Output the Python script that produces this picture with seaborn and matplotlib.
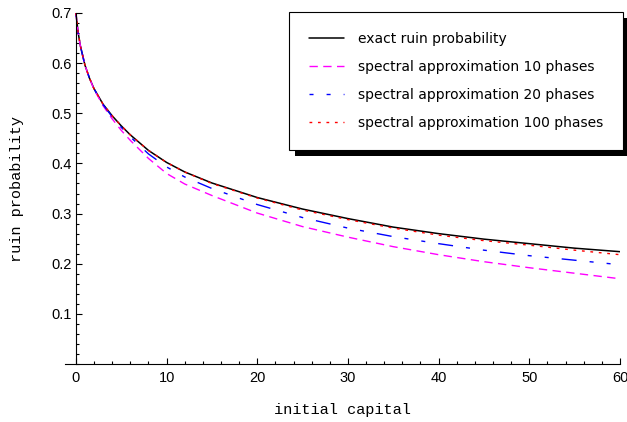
import numpy as np
import pandas as pd
import seaborn as sns
import matplotlib.pyplot as plt
import matplotlib.patheffects as pe
from matplotlib.ticker import MultipleLocator, FixedLocator

# values
capital = [0, 0.25, 0.5, 1, 1.5, 2, 3, 4, 5, 6, 8, 10, 12, 15, 20, 25, 30, 35, 40, 45, 50, 55, 60]
exact = [0.700, 0.661, 0.634, 0.596, 0.570, 0.549, 0.518, 0.495, 0.475, 0.457, 0.426, 0.402,
         0.383, 0.361, 0.332, 0.309, 0.290, 0.273, 0.260, 0.249, 0.240, 0.231, 0.224]
phases10 = [0.700, 0.661, 0.634, 0.596, 0.570, 0.548, 0.515, 0.489, 0.466, 0.446, 0.410, 0.380,
            0.359, 0.336, 0.301, 0.274, 0.253, 0.234, 0.218, 0.204, 0.192, 0.181, 0.170]
phases20 = [0.700, 0.661, 0.634, 0.596, 0.570, 0.549, 0.517, 0.493, 0.472, 0.453, 0.419, 0.393,
            0.373, 0.350, 0.318, 0.292, 0.271, 0.254, 0.240, 0.227, 0.216, 0.207, 0.198]
phases100 = [0.700, 0.661, 0.634, 0.596, 0.570, 0.549, 0.518, 0.495, 0.475, 0.457, 0.426, 0.402,
             0.383, 0.360, 0.331, 0.307, 0.288, 0.271, 0.257, 0.246, 0.237, 0.227, 0.218]

labels = ["exact ruin probability",
          "spectral approximation 10 phases",
          "spectral approximation 20 phases",
          "spectral approximation 100 phases"]
x_ticks = [0, 10, 20, 30, 40, 50, 60]
y_ticks = [0.1, 0.2, 0.3, 0.4, 0.5, 0.6, 0.7]

sns.set_style("white")
plt.rcParams['font.family'] = ['Liberation Sans', 'DejaVu Sans']
plt.rcParams['text.color'] = 'black'
plt.rcParams['axes.labelcolor'] = 'black'
plt.rcParams['xtick.color'] = 'black'
plt.rcParams['ytick.color'] = 'black'

fig = plt.figure(figsize=(6.27, 4.22), dpi=100)
ax = fig.add_axes([65 / 627, 1 - 364 / 422, 555 / 627, 351 / 422])

sns.lineplot(x=capital, y=exact, color="black", lw=1.1, label=labels[0], ax=ax)
sns.lineplot(x=capital, y=phases10, color="#ff00ff", lw=1.0, linestyle=(0, (6, 3.9)),
             label=labels[1], ax=ax)
sns.lineplot(x=capital, y=phases20, color="#0000ff", lw=1.0,
             linestyle=(0, (2.9, 9.4, 2.9, 9.4, 10.8, 9.4)), label=labels[2], ax=ax)
sns.lineplot(x=capital, y=phases100, color="#ff0000", lw=1.0, linestyle=(0, (2, 4.1)),
             label=labels[3], ax=ax)

ax.set_xlim(-1.2, 60)
ax.set_ylim(0, 0.7)
ax.spines['left'].set_position(('data', 0))
ax.spines['top'].set_visible(False)
ax.spines['right'].set_visible(False)
for s in ['left', 'bottom']:
    ax.spines[s].set_linewidth(0.8)
    ax.spines[s].set_color('black')

ax.xaxis.set_major_locator(FixedLocator(x_ticks))
ax.xaxis.set_minor_locator(MultipleLocator(2))
ax.yaxis.set_major_locator(FixedLocator(y_ticks))
ax.yaxis.set_minor_locator(MultipleLocator(0.02))
ax.tick_params(which='both', direction='in', width=0.8, color='black',
               bottom=True, left=True, labelsize=10.5)
ax.tick_params(which='major', length=4.5)
ax.tick_params(which='minor', length=2.5)
ax.tick_params(axis='x', which='major', pad=5)
ax.tick_params(axis='y', which='major', pad=3)

ax.set_xlabel("initial capital", family='Liberation Mono', fontsize=11, labelpad=13)
ax.set_ylabel("ruin probability", family='Liberation Mono', fontsize=11, labelpad=20)

leg = ax.legend(loc='upper right', bbox_to_anchor=(623 / 627, 1 - 12 / 422),
                bbox_transform=fig.transFigure, borderaxespad=0, fancybox=False,
                framealpha=1, edgecolor='black', prop={'family': 'DejaVu Sans', 'size': 10},
                handlelength=2.5, handletextpad=1.0, labelspacing=1.0, borderpad=1.45)
leg.get_frame().set_linewidth(0.8)
leg.get_frame().set_path_effects([pe.SimplePatchShadow(offset=(4.5, -4.5), shadow_rgbFace='black',
                                                       alpha=1.0), pe.Normal()])

plt.savefig("out.png", dpi=100)
